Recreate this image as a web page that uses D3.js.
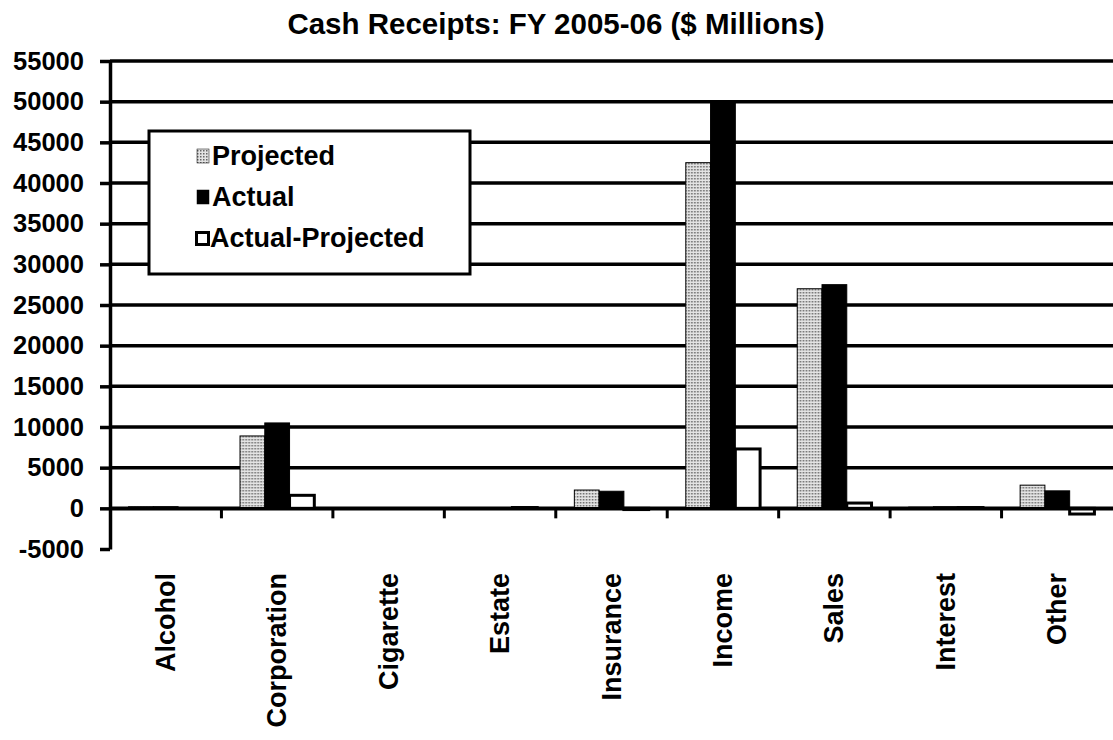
<!DOCTYPE html>
<html>
<head>
<meta charset="utf-8">
<script src="https://cdn.jsdelivr.net/npm/d3@7"></script>
<style>
  body { margin: 0; background: #fff; }
  text { font-family: "Liberation Sans", Arial, sans-serif; font-weight: bold; fill: #000; }
</style>
</head>
<body>
<div id="chart"></div>
<script>
// categories and series (values in $ millions)
var categories = ["Alcohol", "Corporation", "Cigarette", "Estate", "Insurance", "Income", "Sales", "Interest", "Other"];
var projected = [200, 8900, 0, 0, 2250, 42500, 27000, 150, 2850];
var actual = [200, 10500, 0, 0, 2100, 50000, 27500, 200, 2150];
var diff = [0, 1600, 0, 100, -150, 7300, 650, 100, -700];
var seriesNames = ["Projected", "Actual", "Actual-Projected"];
var yTicks = [-5000, 0, 5000, 10000, 15000, 20000, 25000, 30000, 35000, 40000, 45000, 50000, 55000];

var W = 1113, H = 740;
var margin = {top: 61, right: 0, bottom: 191, left: 110};
var width = W - margin.left - margin.right,
    height = H - margin.top - margin.bottom;

var svg = d3.select("#chart").append("svg")
    .attr("width", W)
    .attr("height", H);

// dotted fill used for "Projected"
var defs = svg.append("defs");
var pat = defs.append("pattern")
    .attr("id", "dots")
    .attr("patternUnits", "userSpaceOnUse")
    .attr("width", 3)
    .attr("height", 3);
pat.append("rect").attr("width", 3).attr("height", 3).attr("fill", "#e4e4e4");
pat.append("rect").attr("x", 0).attr("y", 0).attr("width", 1.5).attr("height", 1.5).attr("fill", "#666");

svg.append("text")
    .attr("x", 556)
    .attr("y", 34)
    .attr("text-anchor", "middle")
    .attr("font-size", "29.5px")
    .text("Cash Receipts: FY 2005-06 ($ Millions)");

var g = svg.append("g")
    .attr("transform", "translate(" + margin.left + "," + margin.top + ")");

var x = d3.scaleBand()
    .domain(categories)
    .range([0, width]);

var xs = d3.scaleBand()
    .domain(seriesNames)
    .range([0, x.bandwidth()])
    .paddingInner(0)
    .paddingOuter(0.75);

var y = d3.scaleLinear()
    .domain([-5000, 55000])
    .range([height, 0]);

// gridlines
g.append("g")
    .selectAll("line")
    .data(yTicks.filter(function(d) { return d > -5000; }))
    .enter().append("line")
    .attr("x1", 0)
    .attr("x2", width)
    .attr("y1", function(d) { return y(d); })
    .attr("y2", function(d) { return y(d); })
    .attr("stroke", "#000")
    .attr("stroke-width", 3.5);

var fills = {"Projected": "url(#dots)", "Actual": "#000", "Actual-Projected": "#fff"};
var strokeW = {"Projected": 1, "Actual": 1, "Actual-Projected": 3};

var rows = categories.map(function(c, i) {
    return {cat: c, vals: [
        {key: "Projected", v: projected[i]},
        {key: "Actual", v: actual[i]},
        {key: "Actual-Projected", v: diff[i]}
    ]};
});

g.append("g")
  .selectAll("g")
  .data(rows)
  .enter().append("g")
    .attr("transform", function(d) { return "translate(" + x(d.cat) + ",0)"; })
  .selectAll("rect")
  .data(function(d) { return d.vals; })
  .enter().append("rect")
    .attr("x", function(d) { return xs(d.key); })
    .attr("width", xs.bandwidth())
    .attr("y", function(d) { return y(Math.max(0, d.v)); })
    .attr("height", function(d) { return Math.abs(y(d.v) - y(0)); })
    .attr("fill", function(d) { return fills[d.key]; })
    .attr("stroke", "#000")
    .attr("stroke-width", function(d) { return strokeW[d.key]; });

// x axis at zero
var xAxis = g.append("g")
    .attr("transform", "translate(0," + y(0) + ")")
    .call(d3.axisBottom(x).tickSize(0).tickFormat(""));
xAxis.select(".domain").attr("stroke", "#000").attr("stroke-width", 3.5);
xAxis.selectAll("line.sep")
    .data(categories.slice(1))
    .enter().append("line")
    .attr("class", "sep")
    .attr("x1", function(d) { return x(d); })
    .attr("x2", function(d) { return x(d); })
    .attr("y1", 0)
    .attr("y2", 10)
    .attr("stroke", "#000")
    .attr("stroke-width", 3);

// category labels
g.append("g")
  .selectAll("text")
  .data(categories)
  .enter().append("text")
    .attr("transform", function(d) {
        return "translate(" + (x(d) + x.bandwidth() / 2 + 9) + "," + (height + 24) + ") rotate(-90)";
    })
    .attr("text-anchor", "end")
    .attr("font-size", "27px")
    .text(function(d) { return d; });

// y axis (plain hyphen for the negative label)
var yAxis = g.append("g")
    .call(d3.axisLeft(y).tickValues(yTicks).tickFormat(function(d) { return String(d); })
        .tickSize(10).tickSizeOuter(0).tickPadding(16));
yAxis.select(".domain").attr("stroke", "#000").attr("stroke-width", 3.5);
yAxis.selectAll(".tick line").attr("stroke", "#000").attr("stroke-width", 3.5);
yAxis.selectAll(".tick text")
    .attr("font-size", "25.5px")
    .attr("fill", "#000");

// legend
var legend = svg.append("g")
    .attr("transform", "translate(149,131)");
legend.append("rect")
    .attr("width", 321)
    .attr("height", 143)
    .attr("fill", "#fff")
    .attr("stroke", "#000")
    .attr("stroke-width", 3);

var items = legend.selectAll("g.item")
    .data(seriesNames)
    .enter().append("g")
    .attr("transform", function(d, i) { return "translate(0," + (34 + i * 41) + ")"; });

items.append("rect")
    .attr("x", function(d) { return d === "Actual-Projected" ? 47.5 : 48; })
    .attr("y", function(d) { return d === "Actual-Projected" ? -14.5 : -16; })
    .attr("width", 12)
    .attr("height", function(d) { return d === "Actual-Projected" ? 12 : 14; })
    .attr("fill", function(d) { return fills[d]; })
    .attr("stroke", "#000")
    .attr("stroke-width", function(d) { return d === "Actual-Projected" ? 3 : 0.5; });

items.append("text")
    .attr("x", function(d) { return d === "Actual-Projected" ? 61 : 63; })
    .attr("y", 0)
    .attr("font-size", "27px")
    .text(function(d) { return d; });
</script>
</body>
</html>
